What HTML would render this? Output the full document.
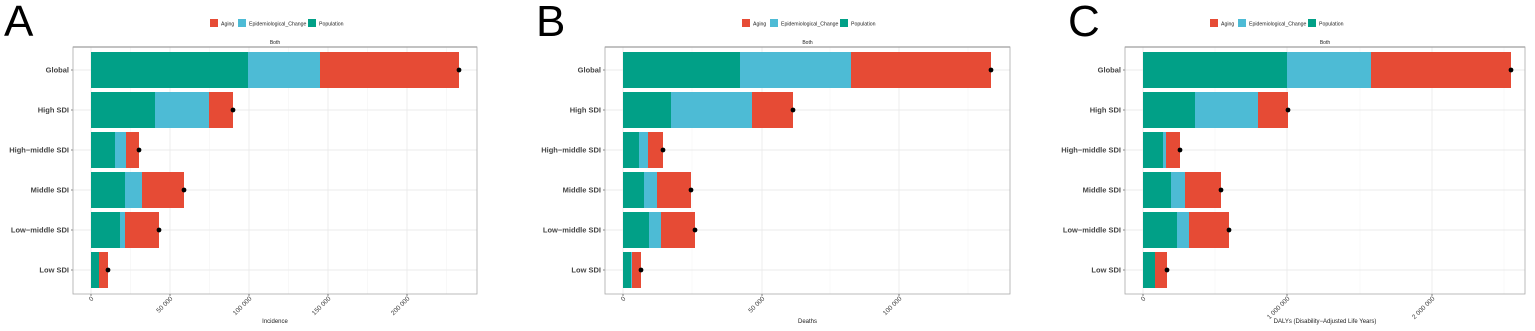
<!DOCTYPE html>
<html><head><meta charset="utf-8"><style>
html,body{margin:0;padding:0;background:#fff;width:1535px;height:331px;overflow:hidden}
svg{position:absolute;left:0;top:0}
text{font-family:"Liberation Sans",sans-serif}
</style></head><body>
<svg id="s" width="1535" height="331" viewBox="0 0 1535 331"></svg>
<script>
(function(){
var T='#01A087',B='#4DBBD5',R='#E64B35';
var labels=['Global','High SDI','High\u2212middle SDI','Middle SDI','Low\u2212middle SDI','Low SDI'];
var panels=[
 {L:'A',lx:4,box:[73,477],z:91,ticks:[[91,'0'],[170,'50 000'],[249,'100 000'],[328,'150 000'],[407,'200 000']],minor:[130.5,209.5,288.5,367.5,446.5],
  bars:[[248,320,459],[155,209,233],[115,126,139],[125,142,184],[120,125,159],[99,99,108]],title:'Incidence',leg:210},
 {L:'B',lx:536,box:[605,1010],z:623,ticks:[[623,'0'],[762,'50 000'],[899,'100 000']],minor:[692,830,968],
  bars:[[740,851,991],[671,752,793],[639,648,663],[644,657,691],[649,661,695],[631,632,641]],title:'Deaths',leg:742},
 {L:'C',lx:1068,box:[1125,1525],z:1143,ticks:[[1143,'0'],[1287,'1 000 000'],[1432,'2 000 000']],minor:[1215,1360,1504],
  bars:[[1287,1371,1511],[1195,1258,1288],[1163,1166,1180],[1171,1185,1221],[1177,1189,1229],[1155,1155,1167]],title:'DALYs (Disability\u2212Adjusted Life Years)',leg:1210}
];
var h='';
var yTop=47,yBot=294;
panels.forEach(function(p){
 var x0=p.box[0],x1=p.box[1],cx=(x0+x1)/2;
 h+='<text x="'+p.lx+'" y="36" font-size="44">'+p.L+'</text>';
 var lx=p.leg;
 [['Aging',R,28],['Epidemiological_Change',B,70],['Population',T,40]].forEach(function(a){
  h+='<rect x="'+lx+'" y="19" width="8" height="8" fill="'+a[1]+'"/><text x="'+(lx+11)+'" y="25.5" font-size="5.2" fill="#222">'+a[0]+'</text>';
  lx+=a[2];
 });
 h+='<text x="'+cx+'" y="44" font-size="5" text-anchor="middle" fill="#222">Both</text>';
 p.minor.forEach(function(m){h+='<line x1="'+m+'" x2="'+m+'" y1="'+yTop+'" y2="'+yBot+'" stroke="#f3f3f3" stroke-width="0.6"/>';});
 p.ticks.forEach(function(t){h+='<line x1="'+t[0]+'" x2="'+t[0]+'" y1="'+yTop+'" y2="'+yBot+'" stroke="#ebebeb" stroke-width="0.9"/>';});
 p.bars.forEach(function(b,i){var c=70+i*40;h+='<line x1="'+x0+'" x2="'+x1+'" y1="'+c+'" y2="'+c+'" stroke="#ebebeb" stroke-width="0.9"/>';});
 p.bars.forEach(function(b,i){
  var c=70+i*40,y=c-18;
  h+='<rect x="'+p.z+'" y="'+y+'" width="'+(b[0]-p.z)+'" height="36" fill="'+T+'"/>';
  if(b[1]>b[0])h+='<rect x="'+b[0]+'" y="'+y+'" width="'+(b[1]-b[0])+'" height="36" fill="'+B+'"/>';
  h+='<rect x="'+b[1]+'" y="'+y+'" width="'+(b[2]-b[1])+'" height="36" fill="'+R+'"/>';
  h+='<circle cx="'+b[2]+'" cy="'+c+'" r="2.4" fill="#000"/>';
  h+='<line x1="'+(x0-2)+'" x2="'+x0+'" y1="'+c+'" y2="'+c+'" stroke="#333" stroke-width="0.6"/>';
  h+='<text x="'+(x0-4)+'" y="'+(c+2.6)+'" font-size="7.5" font-weight="bold" text-anchor="end" fill="#444">'+labels[i]+'</text>';
 });
 h+='<line x1="'+x0+'" x2="'+x1+'" y1="'+yTop+'" y2="'+yTop+'" stroke="#888" stroke-width="1.2"/>';
 h+='<rect x="'+x0+'" y="'+yTop+'" width="'+(x1-x0)+'" height="'+(yBot-yTop)+'" fill="none" stroke="#aaa" stroke-width="0.8"/>';
 p.ticks.forEach(function(t){
  h+='<line x1="'+t[0]+'" x2="'+t[0]+'" y1="'+yBot+'" y2="'+(yBot+2)+'" stroke="#333" stroke-width="0.6"/>';
  h+='<text transform="translate('+(t[0]+3)+','+(yBot+5)+') rotate(-45)" font-size="6.5" text-anchor="end" fill="#444">'+t[1]+'</text>';
 });
 h+='<text x="'+cx+'" y="323" font-size="6" text-anchor="middle" fill="#222">'+p.title+'</text>';
});
document.getElementById('s').innerHTML=h;
})();
</script>
</body></html>
